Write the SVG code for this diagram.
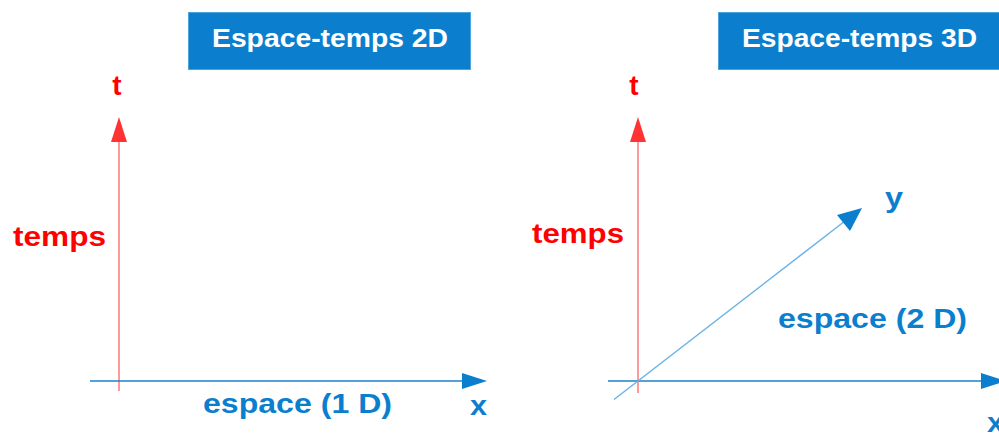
<svg xmlns="http://www.w3.org/2000/svg" width="999" height="434" viewBox="0 0 999 434">
<style>
.box{fill:#0b7fce;stroke:#4ea3dd;stroke-width:1}
.title{font-family:"Liberation Sans",Arial,sans-serif;font-weight:bold;font-size:25px;fill:#ffffff;text-anchor:middle}
.red{font-family:"Liberation Sans",Arial,sans-serif;font-weight:bold;font-size:28px;fill:#ff0000}
.blue{font-family:"Liberation Sans",Arial,sans-serif;font-weight:bold;font-size:28px;fill:#0b7fce}
.taxis{stroke:#ff9a9a;stroke-width:2;fill:none}
.xaxis{stroke:#1a80cf;stroke-width:1.5;fill:none}
.yaxis{stroke:#6ab4e6;stroke-width:1.5;fill:none}
.redhead{fill:#ff3333}
.bluehead{fill:#0b7fce}
</style>
<rect width="999" height="434" fill="#ffffff"/>
<g id="title2d">
<rect class="box" x="188.5" y="12.5" width="282" height="57"/>
<text class="title" x="330" y="47" textLength="236" lengthAdjust="spacingAndGlyphs">Espace-temps 2D</text>
</g>
<g id="title3d">
<rect class="box" x="718.5" y="12.5" width="290" height="57"/>
<text class="title" x="859.5" y="47" textLength="235" lengthAdjust="spacingAndGlyphs">Espace-temps 3D</text>
</g>
<g id="connectors">
<line class="taxis" x1="119" y1="391" x2="119" y2="140"/>
<polygon class="redhead" points="119,117 111,142 127,142"/>
<line class="xaxis" x1="90" y1="381" x2="465" y2="381"/>
<polygon class="bluehead" points="487,381 462,373 462,389"/>
<line class="taxis" x1="638" y1="393" x2="638" y2="140"/>
<polygon class="redhead" points="638,117 630,142 646,142"/>
<line class="xaxis" x1="608" y1="381" x2="985" y2="381"/>
<polygon class="bluehead" points="1006,381 981,373 981,389"/>
<line class="yaxis" x1="614" y1="399.5" x2="845" y2="221"/>
<polygon class="bluehead" points="862,208 837,215 850,231"/>
</g>
<g id="labels2d">
<text class="red" x="117" y="95" text-anchor="middle" font-size="30">t</text>
<text class="red" x="13" y="246" textLength="93" lengthAdjust="spacingAndGlyphs">temps</text>
<text class="blue" x="203" y="413" textLength="189" lengthAdjust="spacingAndGlyphs">espace (1 D)</text>
<text class="blue" x="470" y="415" textLength="17" lengthAdjust="spacingAndGlyphs">x</text>
</g>
<g id="labels3d">
<text class="red" x="634" y="95" text-anchor="middle" font-size="30">t</text>
<text class="red" x="532" y="243" textLength="92" lengthAdjust="spacingAndGlyphs">temps</text>
<text class="blue" x="885" y="207" textLength="18" lengthAdjust="spacingAndGlyphs">y</text>
<text class="blue" x="778" y="328" textLength="189" lengthAdjust="spacingAndGlyphs">espace (2 D)</text>
<text class="blue" x="987" y="432" textLength="17" lengthAdjust="spacingAndGlyphs">x</text>
</g>
</svg>
